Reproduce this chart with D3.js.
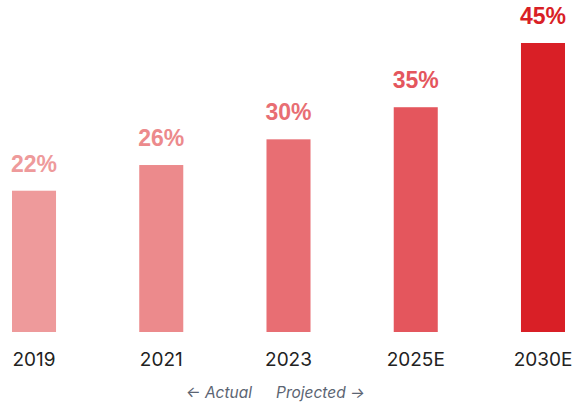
<!DOCTYPE html>
<html>
<head>
<meta charset="utf-8">
<script src="https://cdn.jsdelivr.net/npm/d3@7"></script>
<style>
  body { margin: 0; background: #fff; }
</style>
</head>
<body>
<div id="chart"></div>
<script>
// Data
const years = ["2019", "2021", "2023", "2025E", "2030E"];
const shares = [22, 26, 30, 35, 45];

// Bar palette, light pink to strong red
const palette = ["#ee9a9b", "#ec8a8c", "#e86e73", "#e4565d", "#d91f26"];

const width = 577;
const height = 403;

const svg = d3.select("#chart")
    .append("svg")
    .attr("width", width)
    .attr("height", height);

const x = d3.scaleBand()
    .domain(years)
    .range([12, 565])
    .paddingInner(0.654)
    .paddingOuter(0);

const y = d3.scaleLinear()
    .domain([0, 45])
    .range([332, 43]);

const color = d3.scaleOrdinal()
    .domain(years)
    .range(palette);

const data = years.map((yr, i) => ({ year: yr, value: shares[i] }));

// Bars
svg.selectAll("rect.bar")
    .data(data)
    .join("rect")
    .attr("class", "bar")
    .attr("x", d => x(d.year))
    .attr("y", d => y(d.value))
    .attr("width", x.bandwidth())
    .attr("height", d => y(0) - y(d.value))
    .attr("fill", d => color(d.year));

// Value labels
svg.selectAll("text.value")
    .data(data)
    .join("text")
    .attr("class", "value")
    .attr("x", d => x(d.year) + x.bandwidth() / 2)
    .attr("y", d => y(d.value) - 19)
    .attr("text-anchor", "middle")
    .attr("font-family", "Liberation Sans, Arial, sans-serif")
    .attr("font-weight", "bold")
    .attr("font-size", 23)
    .attr("fill", d => color(d.year))
    .text(d => d.value + "%");

// Category axis (no line, no ticks)
const xAxis = svg.append("g")
    .attr("transform", `translate(0,${y(0)})`)
    .call(d3.axisBottom(x).tickSize(0).tickPadding(21));
xAxis.select(".domain").remove();
xAxis.selectAll("text")
    .attr("font-family", "Inter, Roboto, sans-serif")
    .attr("font-size", 19)
    .attr("fill", "#222");

// Actual / projected note
const note = svg.append("g")
    .attr("font-family", "Inter, Roboto, sans-serif")
    .attr("font-style", "italic")
    .attr("font-size", 15.5)
    .attr("fill", "#5b6472");
note.append("text")
    .attr("x", 252)
    .attr("y", 398)
    .attr("text-anchor", "end")
    .text("\u2190 Actual");
note.append("text")
    .attr("x", 276)
    .attr("y", 398)
    .text("Projected \u2192");
</script>
</body>
</html>
